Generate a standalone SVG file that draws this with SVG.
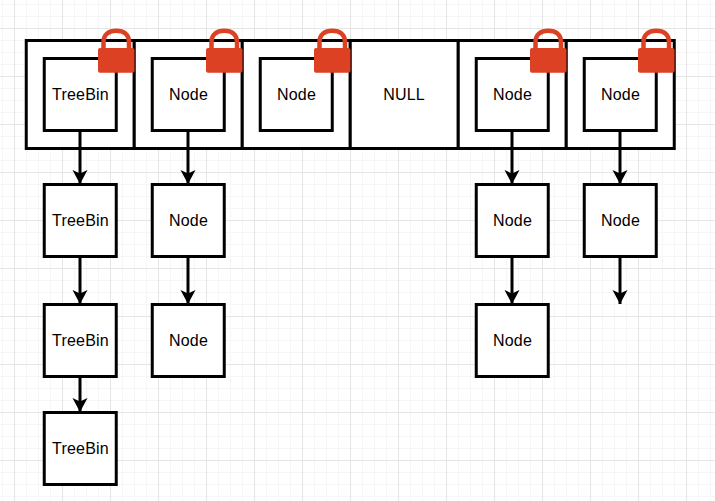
<svg xmlns="http://www.w3.org/2000/svg" width="715" height="501" viewBox="0 0 715 501">
<style>
.box{fill:#fff;stroke:#000;stroke-width:3;transform:translate(.25px,.5px)}
.lbl{font-family:"Liberation Sans",Arial,sans-serif;font-size:16px;letter-spacing:.2px;fill:#000;text-anchor:middle}
.link{fill:none;stroke:#000;stroke-width:3;marker-end:url(#arrow)}
.lock-b{fill:#dd4124}
.lock-s{fill:none;stroke:#dd4124;stroke-width:4.5}
</style>
<defs>
<pattern id="minor" width="12" height="12" patternUnits="userSpaceOnUse" x="2" y="4">
<path d="M0.5 0V12M0 0.5H12" fill="none" stroke="#f6f6f6" stroke-width="1"/>
</pattern>
<pattern id="major" width="48" height="48" patternUnits="userSpaceOnUse" x="14" y="28">
<path d="M0.5 0V48M0 0.5H48" fill="none" stroke="#e5e5e5" stroke-width="1"/>
</pattern>
<marker id="arrow" markerUnits="userSpaceOnUse" markerWidth="16" markerHeight="16" refX="14" refY="7.500" orient="auto">
<path d="M0 0L14 7.500L0 15L3.500 7.500Z" fill="#000"/>
</marker>
<g id="lock">
<path class="lock-s" d="M-12.500 22V14C-12.500 6-7 2.800 .3 2.800S13 6 13 14V22"/>
<rect class="lock-b" x="-18" y="20" width="36.500" height="24.700" rx="2"/>
</g>
</defs>
<rect width="715" height="501" fill="#fff"/>
<rect width="715" height="501" fill="url(#minor)"/>
<rect width="715" height="501" fill="url(#major)"/>
<g id="bucket-table">
<rect class="box" x="26" y="40" width="108" height="108"/>
<rect class="box" x="134" y="40" width="108" height="108"/>
<rect class="box" x="242" y="40" width="108" height="108"/>
<rect class="box" x="350" y="40" width="108" height="108"/>
<rect class="box" x="458" y="40" width="108" height="108"/>
<rect class="box" x="566" y="40" width="108" height="108"/>
<text class="lbl" x="404" y="99.500">NULL</text>
</g>
<g id="connectors">
<path class="link" d="M80 130V184"/>
<path class="link" d="M188 130V184"/>
<path class="link" d="M512 130V184"/>
<path class="link" d="M620 130V184"/>
<path class="link" d="M80 256V304"/>
<path class="link" d="M188 256V304"/>
<path class="link" d="M512 256V304"/>
<path class="link" d="M620 256V304"/>
<path class="link" d="M80 376V412"/>
</g>
<g id="n1"><rect class="box" x="44" y="58" width="72" height="72"/><text class="lbl" x="80.500" y="99.500">TreeBin</text></g>
<g id="n2"><rect class="box" x="152" y="58" width="72" height="72"/><text class="lbl" x="188.500" y="99.500">Node</text></g>
<g id="n3"><rect class="box" x="260" y="58" width="72" height="72"/><text class="lbl" x="296.500" y="99.500">Node</text></g>
<g id="n4"><rect class="box" x="476" y="58" width="72" height="72"/><text class="lbl" x="512.500" y="99.500">Node</text></g>
<g id="n5"><rect class="box" x="584" y="58" width="72" height="72"/><text class="lbl" x="620.500" y="99.500">Node</text></g>
<g id="n6"><rect class="box" x="44" y="184" width="72" height="72"/><text class="lbl" x="80.500" y="225.500">TreeBin</text></g>
<g id="n7"><rect class="box" x="44" y="304" width="72" height="72"/><text class="lbl" x="80.500" y="345.500">TreeBin</text></g>
<g id="n8"><rect class="box" x="44" y="412" width="72" height="72"/><text class="lbl" x="80.500" y="453.500">TreeBin</text></g>
<g id="n9"><rect class="box" x="152" y="184" width="72" height="72"/><text class="lbl" x="188.500" y="225.500">Node</text></g>
<g id="n10"><rect class="box" x="152" y="304" width="72" height="72"/><text class="lbl" x="188.500" y="345.500">Node</text></g>
<g id="n11"><rect class="box" x="476" y="184" width="72" height="72"/><text class="lbl" x="512.500" y="225.500">Node</text></g>
<g id="n12"><rect class="box" x="476" y="304" width="72" height="72"/><text class="lbl" x="512.500" y="345.500">Node</text></g>
<g id="n13"><rect class="box" x="584" y="184" width="72" height="72"/><text class="lbl" x="620.500" y="225.500">Node</text></g>
<g id="locks">
<use href="#lock" x="116" y="28"/>
<use href="#lock" x="224" y="28"/>
<use href="#lock" x="332" y="28"/>
<use href="#lock" x="548" y="28"/>
<use href="#lock" x="656" y="28"/>
</g>
</svg>
